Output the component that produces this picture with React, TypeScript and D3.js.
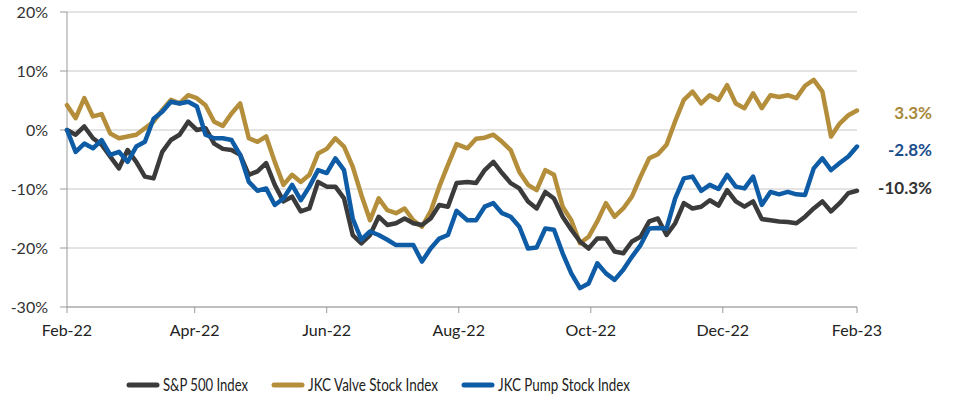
import React from "react";
import * as d3 from "d3";

const START = new Date(2022, 1, 1);
const END = new Date(2023, 1, 1);

const sp500: number[] = [
  0.0, -0.8, 0.6, -1.4, -2.5, -4.5, -6.5, -3.4, -5.4, -7.9, -8.2, -3.7, -1.7, -0.8, 1.4, 0.0, 0.3, -2.3, -3.2, -3.4, -4.2, -7.6, -7.0,
  -5.6, -9.3, -12.1, -11.3, -13.8, -13.3, -8.8, -9.6, -9.6, -11.6, -17.8, -19.2, -17.8, -14.7, -16.1, -15.8, -15.0, -15.8, -16.1, -15.0, -12.7, -13.0,
  -9.0, -8.8, -9.0, -6.8, -5.4, -7.3, -9.0, -9.9, -12.1, -13.3, -10.5, -11.6, -14.7, -16.9, -18.9, -20.1, -18.4, -18.4, -20.6, -20.9, -18.9, -18.1, -15.5,
  -15.0, -17.8, -15.8, -12.4, -13.3, -13.0, -11.9, -12.8, -10.2, -12.1, -13.0, -12.1, -15.1, -15.3, -15.5, -15.6, -15.8, -14.7, -13.3, -12.1, -13.8, -12.4, -10.7, -10.3,
];

const valve: number[] = [
  4.2, 2.0, 5.4, 2.3, 2.7, -0.6, -1.4, -1.1, -0.8, 0.3, 1.4, 3.4, 5.1, 4.5, 5.9, 5.4, 4.2, 1.4, 0.7, 2.8, 4.5, -1.4, -2.0,
  -1.1, -5.4, -9.3, -7.6, -8.8, -7.6, -4.0, -3.2, -1.4, -2.8, -6.2, -11.0, -15.3, -11.6, -13.6, -14.1, -13.3, -15.3, -16.4, -13.8, -9.6, -5.9,
  -2.4, -3.1, -1.5, -1.3, -0.8, -2.0, -3.4, -7.1, -9.3, -10.2, -6.8, -7.6, -13.0, -15.3, -19.2, -18.1, -15.5, -12.4, -14.7, -13.3, -11.3, -7.9, -4.8,
  -4.1, -2.5, 1.5, 5.1, 6.5, 4.5, 5.9, 5.1, 7.6, 4.5, 3.7, 6.2, 3.7, 5.9, 5.6, 5.9, 5.4, 7.5, 8.5, 6.5, -1.1, 1.1, 2.5, 3.3,
];

const pump: number[] = [
  0.0, -3.7, -2.3, -3.1, -1.7, -4.2, -3.7, -5.4, -2.8, -2.0, 1.9, 3.1, 4.8, 4.5, 4.8, 4.0, -0.8, -1.4, -1.4, -1.7, -4.2, -8.8, -10.3,
  -9.9, -12.7, -11.6, -9.3, -11.9, -9.6, -6.8, -7.3, -4.8, -6.8, -15.0, -18.6, -17.2, -17.8, -18.6, -19.5, -19.5, -19.5, -22.3, -20.1, -18.4, -17.8,
  -13.7, -15.3, -15.3, -13.0, -12.4, -14.1, -14.7, -16.4, -20.1, -19.9, -16.7, -16.9, -20.9, -24.3, -26.8, -26.0, -22.6, -24.3, -25.4, -23.7, -21.5, -19.5, -16.7,
  -16.6, -16.7, -11.6, -8.2, -7.9, -10.3, -9.3, -10.0, -7.6, -9.6, -9.9, -7.9, -12.7, -10.5, -10.9, -10.5, -10.9, -11.0, -6.5, -4.8, -6.8, -5.6, -4.5, -2.8,
];

const seriesNames = ["S&P 500 Index", "JKC Valve Stock Index", "JKC Pump Stock Index"];
const endLabels = ["-10.3%", "3.3%", "-2.8%"];
const yTicks = [-30, -20, -10, 0, 10, 20];

const lineColors = ["#3b3b3b", "#b48e3a", "#0f5ca6"];
const labelColors = ["#333333", "#a8883a", "#1b4f8c"];

const FONT = "Lato, 'Open Sans', sans-serif";

export default function App() {
  const W = 980;
  const H = 400;
  const left = 67;
  const right = 857;
  const top = 12;
  const bottom = 307;

  const nSteps = sp500.length - 1;
  const totalDays = d3.timeDay.count(START, END);
  const dates = sp500.map((_, i) => d3.timeDay.offset(START, Math.round((i * totalDays) / nSteps)));

  const x = d3.scaleTime().domain([START, END]).range([left, right]);
  const y = d3.scaleLinear().domain([-30, 20]).range([bottom, top]);

  const xTicks = d3.timeMonth.range(START, d3.timeDay.offset(END, 1), 2);
  const fmt = d3.timeFormat("%b-%y");

  const line = d3
    .line<number>()
    .x((_, i) => x(dates[i]))
    .y((d) => y(d))
    .curve(d3.curveLinear);

  const all = [sp500, valve, pump];
  const drawOrder = [1, 0, 2];

  const endY = [188, 113, 150];

  const legendItems = [
    { x: 129, w: 28, tx: 163, tw: 85 },
    { x: 274, w: 28, tx: 308, tw: 130 },
    { x: 464, w: 28, tx: 498, tw: 132 },
  ];

  return (
    <div style={{ position: "fixed", left: 0, top: 0, width: W, height: H, background: "#fff" }}>
      <svg width={W} height={H} style={{ display: "block" }} fontFamily={FONT}>
        {yTicks.map((t) => (
          <g key={t}>
            <line x1={left} x2={right} y1={y(t)} y2={y(t)} stroke="#c8c8c8" strokeWidth={1} />
            <line x1={left - 7} x2={left} y1={y(t)} y2={y(t)} stroke="#9a9a9a" strokeWidth={1} />
            <text x={48} y={y(t)} dy="0.36em" textAnchor="end" fontSize={16} fill="#333">
              {t}%
            </text>
          </g>
        ))}
        <line x1={left} x2={left} y1={top} y2={bottom} stroke="#9a9a9a" strokeWidth={1} />
        <line x1={left} x2={right} y1={bottom} y2={bottom} stroke="#9a9a9a" strokeWidth={1} />
        {xTicks.map((t) => (
          <g key={t.getTime()}>
            <line x1={x(t)} x2={x(t)} y1={bottom} y2={bottom + 6} stroke="#9a9a9a" strokeWidth={1} />
            <text x={x(t)} y={336} textAnchor="middle" fontSize={16} fill="#222">
              {fmt(t)}
            </text>
          </g>
        ))}
        {drawOrder.map((k) => (
          <path
            key={k}
            d={line(all[k]) || ""}
            fill="none"
            stroke={lineColors[k]}
            strokeWidth={4.5}
            strokeLinejoin="round"
            strokeLinecap="round"
          />
        ))}
        {endLabels.map((lab, k) => (
          <text
            key={lab}
            x={932}
            y={endY[k]}
            dy="0.36em"
            textAnchor="end"
            fontSize={17}
            fontWeight="bold"
            fill={labelColors[k]}
          >
            {lab}
          </text>
        ))}
        {seriesNames.map((name, k) => (
          <g key={name}>
            <line
              x1={legendItems[k].x}
              x2={legendItems[k].x + legendItems[k].w}
              y1={385}
              y2={385}
              stroke={lineColors[k]}
              strokeWidth={5}
              strokeLinecap="round"
            />
            <text
              x={legendItems[k].tx}
              y={385}
              dy="0.36em"
              fontSize={17}
              fill="#222"
              textLength={legendItems[k].tw}
              lengthAdjust="spacingAndGlyphs"
            >
              {name}
            </text>
          </g>
        ))}
      </svg>
    </div>
  );
}
